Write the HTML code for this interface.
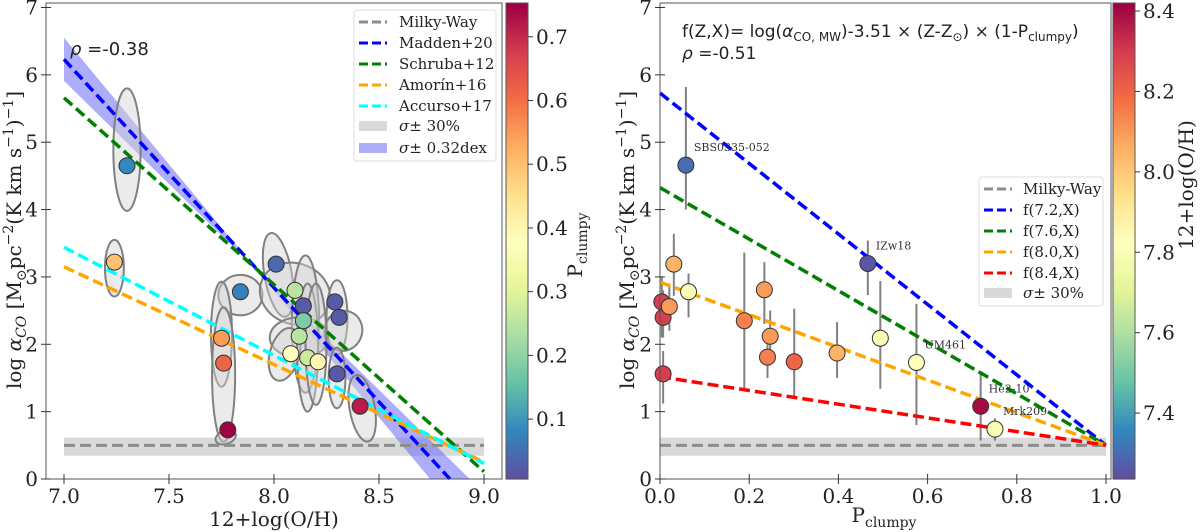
<!DOCTYPE html>
<html><head><meta charset="utf-8">
<style>
body{margin:0;background:#fff;}
svg{display:block;font-family:"DejaVu Serif","Liberation Serif",serif;}
.sans{font-family:"DejaVu Sans","Liberation Sans",sans-serif;}
</style></head>
<body>
<svg id="fig" width="1200" height="532" viewBox="0 0 1200 532"></svg>
<script>
// ---------- LEFT PANEL DATA ----------
const leftZ = [7.30,7.24,7.84,7.75,7.76,7.78,8.01,8.10,8.14,8.14,8.12,8.08,8.16,8.21,8.29,8.31,8.30,8.41];
const leftA = [4.65,3.22,2.78,2.09,1.72,0.73,3.19,2.80,2.57,2.35,2.12,1.86,1.80,1.74,2.63,2.40,1.56,1.08];
const leftP = [0.08,0.50,0.07,0.55,0.62,0.75,0.04,0.25,0.02,0.18,0.25,0.38,0.27,0.40,0.02,0.02,0.02,0.72];
const ellZ  = [7.30,7.24,7.84,7.75,7.76,7.77,8.02,8.10,8.15,8.12,8.05,8.30,8.33,8.30,8.42,8.16,8.20];
const ellA  = [4.89,3.13,2.73,2.15,1.55,0.62,3.03,2.75,2.30,2.10,1.85,2.40,2.20,1.50,1.05,1.95,2.00];
const ellRx = [0.065,0.045,0.105,0.05,0.055,0.05,0.065,0.17,0.065,0.14,0.07,0.05,0.09,0.04,0.06,0.05,0.05];
const ellRy = [0.91,0.42,0.30,0.78,1.00,0.10,0.63,0.45,1.02,0.30,0.40,0.55,0.30,0.45,0.50,0.95,0.90];
const ellT  = [0,0,0,0,0,-20,-10,20,0,0,15,0,20,0,-10,0,0];
const fitNames = ['Madden+20','Schruba+12','Amorín+16','Accurso+17'];
const fitA7 = [6.23,5.66,3.15,3.44];
const fitA9 = [-0.55,0.11,0.25,0.23];
const fitColors = ['#0000ff','#007f00','#ffa500','#00ffff'];
const leftXTicks = [7.0,7.5,8.0,8.5,9.0];
const yTicks = [0,1,2,3,4,5,6,7];
const pTicks = [0.1,0.2,0.3,0.4,0.5,0.6,0.7];
// ---------- RIGHT PANEL DATA ----------
const rightP = [0.058,0.466,0.031,0.064,0.004,0.007,0.021,0.007,0.189,0.234,0.247,0.241,0.301,0.397,0.494,0.575,0.719,0.751];
const rightA = [4.66,3.20,3.19,2.78,2.63,2.40,2.56,1.56,2.35,2.81,2.12,1.81,1.74,1.87,2.09,1.73,1.08,0.74];
const rightZ = [7.30,7.25,8.05,7.80,8.30,8.30,8.10,8.30,8.15,8.10,8.10,8.15,8.20,8.05,7.80,7.82,8.40,7.80];
const rightLo = [4.00,2.73,2.72,2.40,2.10,2.10,2.20,1.12,1.35,2.30,1.70,1.50,1.23,1.50,1.34,0.80,0.57,0.57];
const rightHi = [5.82,3.54,3.64,3.05,3.00,2.80,2.90,1.90,3.36,3.22,2.50,2.00,2.53,2.33,2.94,2.60,1.60,0.90];
const labelNames = ['SBS0335-052','IZw18','UM461','He2-10','Mrk209'];
const labelIdx = [0,1,15,16,17];
const modelZ = [7.2,7.6,8.0,8.4];
const modelColors = ['#0000ff','#007f00','#ffa500','#ff0000'];
const rightXTicks = [0.0,0.2,0.4,0.6,0.8,1.0];
const zTicks = [7.4,7.6,7.8,8.0,8.2,8.4];

const NS='http://www.w3.org/2000/svg';
const svg=document.getElementById('fig');
function mk(tag,attrs,parent){const e=document.createElementNS(NS,tag);for(const k in attrs)e.setAttribute(k,attrs[k]);(parent||svg).appendChild(e);return e;}

const spectral=['#5e4fa2','#3288bd','#66c2a5','#abdda4','#e6f598','#ffffbf','#fee08b','#fdae61','#f46d43','#d53e4f','#9e0142'];
function hex(c){return [parseInt(c.slice(1,3),16),parseInt(c.slice(3,5),16),parseInt(c.slice(5,7),16)];}
function cmap(t){t=Math.max(0,Math.min(1,t));const f=t*10,i=Math.min(9,Math.floor(f)),u=f-i;const a=hex(spectral[i]),b=hex(spectral[i+1]);return 'rgb('+a.map((v,k)=>Math.round(v+(b[k]-v)*u)).join(',')+')';}

const Y0=479, Y7=7.5;
function ya(v){return Y0+(Y7-Y0)*v/7;}
function xl(z){return 64+(z-7)*210;}
function xr(p){return 660+p*446;}
const pMin=0.006,pMax=0.753, zMin=7.236, zMax=8.42;
function cbP(v){return 479-(v-pMin)/(pMax-pMin)*476;}
function cbZ(v){return 479-(v-zMin)/(zMax-zMin)*476;}

function text(x,y,s,attrs,name){const t=mk('text',Object.assign({x:x,y:y,'font-size':20,fill:'#222'},attrs||{}));t.innerHTML=s;return t;}

function colorbar(x0,x1,fn,lo,hi,ticks,fmt,name){
  const g=mk('g',{});
  for(let i=0;i<120;i++){const v=lo+(hi-lo)*i/120;const y1=fn(v),y2=fn(lo+(hi-lo)*(i+1)/120);
    mk('rect',{x:x0,y:y2,width:x1-x0,height:y1-y2+0.6,fill:cmap(i/119)},g);}
  mk('rect',{x:x0,y:3,width:x1-x0,height:476,fill:'none',stroke:'#555','stroke-width':1},g);
  ticks.forEach(t=>{const y=fn(t);mk('line',{x1:x1,y1:y,x2:x1+5,y2:y,stroke:'#333'},g);
    const tl=text(x1+8,y+7,fmt(t),{},'colorbar-tick-label');g.appendChild(tl);});
}

// ---------- LEFT PANEL ----------
const L=mk('g',{});
mk('rect',{x:xl(7),y:ya(0.614),width:xl(9)-xl(7),height:ya(0.345)-ya(0.614),fill:'#d9d9d9'},L);
(function(){const s=(fitA9[0]-fitA7[0])/2;const f=z=>fitA7[0]+s*(z-7);
  const zc0=7+(0.32-fitA7[0])/s, zc1=7+(-0.32-fitA7[0])/s;
  const pts=[[7,f(7)+0.32],[zc0,0],[zc1,0],[7,f(7)-0.32]].map(p=>xl(p[0])+','+ya(p[1])).join(' ');
  const b=mk('polygon',{points:pts,fill:'#6a6af5','fill-opacity':0.55},L);})();
ellZ.forEach((z,i)=>{const e=mk('ellipse',{cx:xl(z),cy:ya(ellA[i]),rx:ellRx[i]*210,ry:ellRy[i]*67.36,transform:'rotate('+ellT[i]+' '+xl(z)+' '+ya(ellA[i])+')',fill:'#d3d3d3','fill-opacity':0.45,stroke:'#808080','stroke-width':2},L);
  });
mk('line',{x1:xl(7),y1:ya(0.5),x2:xl(9),y2:ya(0.5),stroke:'#8c8c8c','stroke-width':3,'stroke-dasharray':'11,5'},L);
fitNames.forEach((n,i)=>{let z2=9,a2=fitA9[i];if(a2<0){z2=7+(0-fitA7[i])/((fitA9[i]-fitA7[i])/2);a2=0;}
  const l=mk('line',{x1:xl(7),y1:ya(fitA7[i]),x2:xl(z2),y2:ya(a2),stroke:fitColors[i],'stroke-width':3.5,'stroke-dasharray':'11,5'},L);
  });
leftZ.forEach((z,i)=>{const c=mk('circle',{cx:xl(z),cy:ya(leftA[i]),r:8,fill:cmap((leftP[i]-pMin)/(pMax-pMin)),stroke:'#333','stroke-width':1},L);
  });
mk('rect',{x:46,y:3,width:456,height:476,fill:'none',stroke:'#555','stroke-width':1},L);
leftXTicks.forEach(t=>{mk('line',{x1:xl(t),y1:474,x2:xl(t),y2:484,stroke:'#333'},L);text(xl(t),503,t.toFixed(1),{'text-anchor':'middle'},'x-tick-label');});
yTicks.forEach(t=>{mk('line',{x1:41,y1:ya(t),x2:51,y2:ya(t),stroke:'#333'},L);text(38,ya(t)+7,t,{'text-anchor':'end'},'y-tick-label');});
text(274,526,'12+log(O/H)',{'text-anchor':'middle'},'x-axis-title');
text(0,0,'log <tspan font-style="italic">α</tspan><tspan font-size="14" dy="5" font-style="italic">CO</tspan><tspan dy="-5"> [M</tspan><tspan font-size="14" dy="5">⊙</tspan><tspan dy="-5">pc</tspan><tspan font-size="14" dy="-8">−2</tspan><tspan dy="8">(K km s</tspan><tspan font-size="14" dy="-8">−1</tspan><tspan dy="8">)</tspan><tspan font-size="14" dy="-8">−1</tspan><tspan dy="8">]</tspan>',{'text-anchor':'middle',transform:'translate(21,240) rotate(-90)'},'y-axis-title');
text(70,55,'<tspan font-style="italic">ρ</tspan> =-0.38',{'class':'sans','font-size':18},'rho-label');
(function(){const g=mk('g',{});
  mk('rect',{x:354,y:10,width:142,height:151,rx:3,fill:'#fff','fill-opacity':0.85,stroke:'#ddd'},g);
  const names=['Milky-Way'].concat(fitNames);const cols=['#8c8c8c'].concat(fitColors);
  names.forEach((n,i)=>{const y=22+i*21;mk('line',{x1:359,y1:y,x2:387,y2:y,stroke:cols[i],'stroke-width':3,'stroke-dasharray':'9,4'},g);
    const t=text(399,y+5,n,{'font-size':15},'legend-entry');g.appendChild(t);});
  mk('rect',{x:359,y:121,width:28,height:10,fill:'#d9d9d9'},g);g.appendChild(text(399,131,'<tspan font-style="italic">σ</tspan>± 30%',{'font-size':15},'legend-entry'));
  mk('rect',{x:359,y:143,width:28,height:10,fill:'#6a6af5','fill-opacity':0.55},g);g.appendChild(text(399,153,'<tspan font-style="italic">σ</tspan>± 0.32dex',{'font-size':15},'legend-entry'));
})();
colorbar(506,528,cbP,pMin,pMax,pTicks,v=>v.toFixed(1),'pclumpy-colorbar');
text(0,0,'P<tspan font-size="14" dy="5">clumpy</tspan>',{'text-anchor':'middle',transform:'translate(582,245) rotate(-90)'},'colorbar-title');

// ---------- RIGHT PANEL ----------
const R=mk('g',{});
mk('rect',{x:xr(0),y:ya(0.614),width:xr(1)-xr(0),height:ya(0.345)-ya(0.614),fill:'#d9d9d9'},R);
mk('line',{x1:xr(0),y1:ya(0.5),x2:xr(1),y2:ya(0.5),stroke:'#8c8c8c','stroke-width':3,'stroke-dasharray':'11,5'},R);
rightP.forEach((p,i)=>{const l=mk('line',{x1:xr(p),y1:ya(rightLo[i]),x2:xr(p),y2:ya(rightHi[i]),stroke:'#808080','stroke-width':2},R);
  });
modelZ.forEach((z,i)=>{const f=P=>0.5-3.51*(z-8.69)*(1-P);
  const l=mk('line',{x1:xr(0),y1:ya(f(0)),x2:xr(1),y2:ya(f(1)),stroke:modelColors[i],'stroke-width':3.5,'stroke-dasharray':'11,5'},R);
  });
rightP.forEach((p,i)=>{const c=mk('circle',{cx:xr(p),cy:ya(rightA[i]),r:8,fill:cmap((rightZ[i]-zMin)/(zMax-zMin)),stroke:'#333','stroke-width':1},R);
  });
labelNames.forEach((n,k)=>{const i=labelIdx[k];const t=text(xr(rightP[i])+8,ya(rightA[i])-14,n,{'font-size':11,fill:'#333'},'galaxy-label');R.appendChild(t);});
mk('rect',{x:660,y:3,width:451,height:476,fill:'none',stroke:'#555','stroke-width':1},R);
rightXTicks.forEach(t=>{mk('line',{x1:xr(t),y1:474,x2:xr(t),y2:484,stroke:'#333'},R);text(xr(t),503,t.toFixed(1),{'text-anchor':'middle'},'x-tick-label');});
yTicks.forEach(t=>{mk('line',{x1:655,y1:ya(t),x2:665,y2:ya(t),stroke:'#333'},R);text(652,ya(t)+7,t,{'text-anchor':'end'},'y-tick-label');});
text(884,522,'P<tspan font-size="14" dy="5">clumpy</tspan>',{'text-anchor':'middle'},'x-axis-title');
text(0,0,'log <tspan font-style="italic">α</tspan><tspan font-size="14" dy="5" font-style="italic">CO</tspan><tspan dy="-5"> [M</tspan><tspan font-size="14" dy="5">⊙</tspan><tspan dy="-5">pc</tspan><tspan font-size="14" dy="-8">−2</tspan><tspan dy="8">(K km s</tspan><tspan font-size="14" dy="-8">−1</tspan><tspan dy="8">)</tspan><tspan font-size="14" dy="-8">−1</tspan><tspan dy="8">]</tspan>',{'text-anchor':'middle',transform:'translate(634,240) rotate(-90)'},'y-axis-title');
text(682,37,'f(Z,X)= log(<tspan font-style="italic">α</tspan><tspan font-size="12" dy="4">CO, MW</tspan><tspan dy="-4">)-3.51 × (Z-Z</tspan><tspan font-size="12" dy="4">⊙</tspan><tspan dy="-4">) × (1-P</tspan><tspan font-size="12" dy="4">clumpy</tspan><tspan dy="-4">)</tspan>',{'class':'sans','font-size':17},'formula-annotation');
text(682,59,'<tspan font-style="italic">ρ</tspan> =-0.51',{'class':'sans','font-size':17},'rho-label');
(function(){const g=mk('g',{});
  mk('rect',{x:979,y:177,width:124,height:129,rx:3,fill:'#fff','fill-opacity':0.85,stroke:'#ddd'},g);
  const names=['Milky-Way'].concat(modelZ.map(z=>'f('+z.toFixed(1)+',X)'));const cols=['#8c8c8c'].concat(modelColors);
  names.forEach((n,i)=>{const y=189+i*21;mk('line',{x1:984,y1:y,x2:1012,y2:y,stroke:cols[i],'stroke-width':3,'stroke-dasharray':'9,4'},g);
    g.appendChild(text(1023,y+5,n,{'font-size':15},'legend-entry'));});
  mk('rect',{x:984,y:288,width:28,height:10,fill:'#d9d9d9'},g);g.appendChild(text(1023,298,'<tspan font-style="italic">σ</tspan>± 30%',{'font-size':15},'legend-entry'));
})();
colorbar(1113,1135,cbZ,zMin,zMax,zTicks,v=>v.toFixed(1),'metallicity-colorbar');
text(0,0,'12+log(O/H)',{'text-anchor':'middle',transform:'translate(1193,185) rotate(-90)'},'colorbar-title');
</script>
</body></html>
